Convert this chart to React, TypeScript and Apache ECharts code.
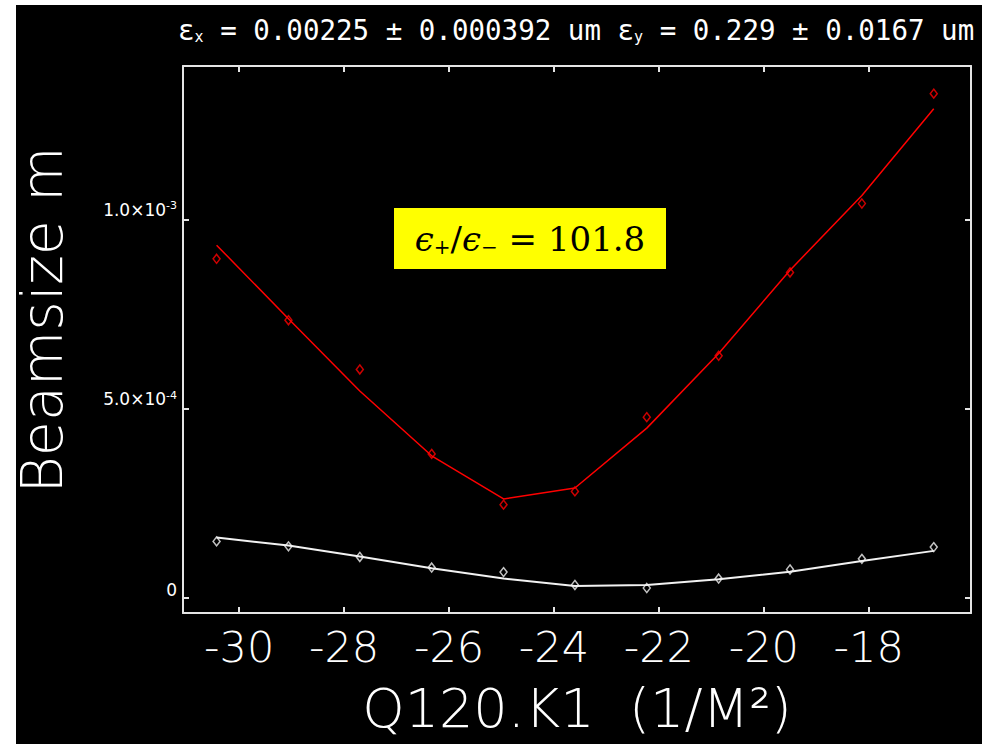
import React, { useEffect, useRef } from "react";
import * as echarts from "echarts";

// Quadrupole strength (1/m^2) at each measurement
const X_VALUES = [-30.43, -29.06, -27.7, -26.33, -24.96, -23.6, -22.23, -20.86, -19.5, -18.13, -16.76];
// Measured beam sizes (m)
const RED_MEASURED = [8.96e-4, 7.34e-4, 6.04e-4, 3.81e-4, 2.47e-4, 2.82e-4, 4.78e-4, 6.4e-4, 8.6e-4, 1.042e-3, 1.332e-3];
const WHITE_MEASURED = [1.5e-4, 1.37e-4, 1.09e-4, 8.1e-5, 6.9e-5, 3.5e-5, 2.7e-5, 5.2e-5, 7.6e-5, 1.04e-4, 1.35e-4];
// Fitted beam sizes (m)
const RED_FIT = [9.32e-4, 7.38e-4, 5.47e-4, 3.76e-4, 2.62e-4, 2.91e-4, 4.49e-4, 6.46e-4, 8.66e-4, 1.063e-3, 1.292e-3];
const WHITE_FIT = [1.6e-4, 1.39e-4, 1.1e-4, 7.9e-5, 5.2e-5, 3.2e-5, 3.5e-5, 5.0e-5, 7.0e-5, 9.8e-5, 1.25e-4];
// Axis ticks
const X_TICKS = [-30, -28, -26, -24, -22, -20, -18];
const Y_TICKS = [0, 5e-4, 1e-3];
const Y_TICK_TEXT = ["{n|0}", "{n|5.0×10}{sup|-4}", "{n|1.0×10}{sup|-3}"];

const AXIS_COLOR = "#e4e4e4";
const FONT = "'DejaVu Sans', sans-serif";

export default function App() {
  const ref = useRef<HTMLDivElement>(null);

  useEffect(() => {
    if (!ref.current) return;
    const chart = echarts.init(ref.current, undefined, { renderer: "svg" });

    const pair = (ys: number[]) => X_VALUES.map((x, i) => [x, ys[i]]);

    const xBase = {
      type: "value" as const,
      min: -31.07,
      max: -16.05,
      splitLine: { show: false },
      axisLine: { show: true, onZero: false, lineStyle: { color: AXIS_COLOR, width: 2 } },
      axisTick: {
        show: true,
        inside: true,
        length: 6,
        customValues: X_TICKS,
        lineStyle: { color: AXIS_COLOR, width: 2 },
      },
    };
    const yBase = {
      type: "value" as const,
      min: -3.9e-5,
      max: 1.405e-3,
      splitLine: { show: false },
      axisLine: { show: true, onZero: false, lineStyle: { color: AXIS_COLOR, width: 2 } },
      axisTick: {
        show: true,
        inside: true,
        length: 6,
        customValues: Y_TICKS,
        lineStyle: { color: AXIS_COLOR, width: 2 },
      },
    };

    chart.setOption({
      animation: false,
      backgroundColor: "#ffffff",
      grid: { left: 183, right: 11, top: 66, bottom: 131 },
      xAxis: [
        {
          ...xBase,
          position: "bottom",
          axisLabel: {
            customValues: X_TICKS,
            color: "#ffffff",
            fontSize: 43,
            fontFamily: FONT,
            fontWeight: 200,
            margin: 12,
          },
        },
        { ...xBase, position: "top", axisLabel: { show: false } },
      ],
      yAxis: [
        {
          ...yBase,
          position: "left",
          axisLabel: {
            customValues: Y_TICKS,
            color: "#ffffff",
            fontSize: 18,
            fontFamily: FONT,
            margin: 6,
            verticalAlign: "bottom",
            formatter: (v: number) => {
              const i = Y_TICKS.findIndex((t) => Math.abs(t - v) < 1e-9);
              return i >= 0 ? Y_TICK_TEXT[i] : "";
            },
            rich: {
              n: { fontSize: 17, color: "#ffffff", fontFamily: FONT },
              sup: { fontSize: 11, verticalAlign: "top", color: "#ffffff", padding: [0, 0, 8, 0], fontFamily: FONT },
            },
          },
        },
        { ...yBase, position: "right", axisLabel: { show: false } },
      ],
      graphic: [
        {
          type: "rect",
          z: -10,
          silent: true,
          shape: { x: 16, y: 5, width: 966, height: 739 },
          style: { fill: "#000000" },
        },
        {
          type: "text",
          x: 178,
          y: 30,
          style: {
            text: "{t|ε}{s|x}{t| = 0.00225 ± 0.000392 um ε}{s|y}{t| = 0.229 ± 0.0167 um}",
            fill: "#ffffff",
            verticalAlign: "middle",
            align: "left",
            rich: {
              t: { fontSize: 27.5, fontFamily: "'DejaVu Sans Mono', monospace", fill: "#ffffff" },
              s: { fontSize: 15, fontFamily: "'DejaVu Sans Mono', monospace", fill: "#ffffff", padding: [14, 0, 0, 0] },
            },
          },
        },
        {
          type: "text",
          x: 42,
          y: 320,
          rotation: Math.PI / 2,
          style: {
            text: "Beamsize m",
            fill: "#ffffff",
            fontSize: 57,
            fontFamily: FONT,
            fontWeight: 200,
            align: "center",
            verticalAlign: "middle",
          },
        },
        {
          type: "text",
          x: 14,
          y: 368,
          rotation: Math.PI / 2,
          style: {
            text: "^",
            fill: "#ffffff",
            fontSize: 14,
            fontFamily: FONT,
            align: "center",
            verticalAlign: "middle",
          },
        },
        {
          type: "text",
          x: 577,
          y: 708,
          style: {
            text: "Q120.K1  (1/M²)",
            fill: "#ffffff",
            fontSize: 54,
            fontFamily: FONT,
            fontWeight: 200,
            align: "center",
            verticalAlign: "middle",
          },
        },
        {
          type: "rect",
          shape: { x: 394, y: 208, width: 272, height: 61 },
          style: { fill: "#ffff00" },
        },
        {
          type: "text",
          x: 530,
          y: 239,
          style: {
            text: "{i|ϵ}{s|+}{n|/}{i|ϵ}{s|−}{n| = 101.8}",
            align: "center",
            verticalAlign: "middle",
            rich: {
              i: { fontSize: 34, fontStyle: "italic", fontFamily: "'DejaVu Serif', serif", fill: "#000000" },
              n: { fontSize: 34, fontFamily: "'DejaVu Serif', serif", fill: "#000000" },
              s: { fontSize: 20, fontFamily: "'DejaVu Serif', serif", fill: "#000000", padding: [16, 0, 0, 0] },
            },
          },
        },
      ],
      series: [
        {
          type: "line",
          data: pair(RED_FIT),
          showSymbol: false,
          symbol: "none",
          lineStyle: { color: "#ff0000", width: 1.5 },
          z: 3,
        },
        {
          type: "scatter",
          data: pair(RED_MEASURED),
          symbol: "diamond",
          symbolSize: [7, 9],
          itemStyle: { color: "rgba(0,0,0,0)", borderColor: "#ff0000", borderWidth: 1.5 },
          z: 4,
        },
        {
          type: "line",
          data: pair(WHITE_FIT),
          showSymbol: false,
          symbol: "none",
          lineStyle: { color: "#f2f2f2", width: 2 },
          z: 3,
        },
        {
          type: "scatter",
          data: pair(WHITE_MEASURED),
          symbol: "diamond",
          symbolSize: [7, 9],
          itemStyle: { color: "rgba(0,0,0,0)", borderColor: "#f2f2f2", borderWidth: 1.5 },
          z: 4,
        },
      ],
    });

    return () => chart.dispose();
  }, []);

  return (
    <div
      ref={ref}
      style={{ position: "fixed", left: 0, top: 0, width: 982, height: 744 }}
    />
  );
}
